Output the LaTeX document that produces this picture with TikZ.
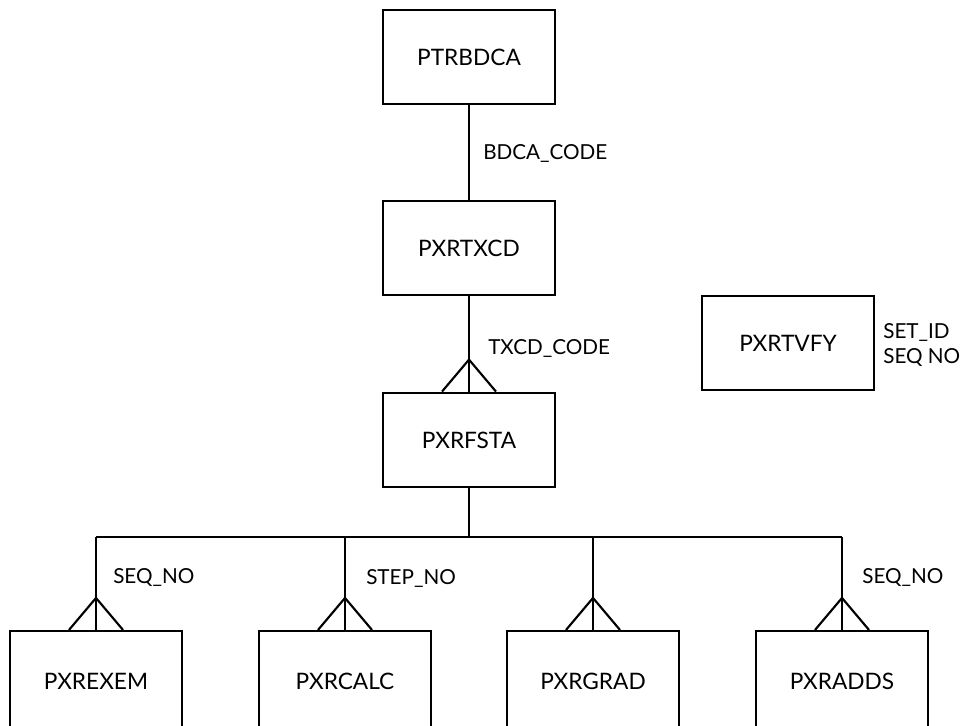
\documentclass[tikz,border=0pt]{standalone}
\usepackage{fontspec}
\setmainfont{Lato}
\usetikzlibrary{calc}
\begin{document}
\begin{tikzpicture}[x=0.75pt,y=-0.75pt,
  entity/.style={draw,line width=1.6pt,minimum width=129pt,minimum height=71pt,
    inner sep=0pt,font=\fontsize{17}{20}\selectfont},
  detail/.style={entity,minimum height=75pt},
  rel/.style={line width=1.6pt},
  lbl/.style={anchor=west,inner sep=0pt,font=\fontsize{15.5}{18.5}\selectfont},
  every node/.append style={text=black}]
\useasboundingbox (0,0) rectangle (967,725);
\clip (0,0) rectangle (967,725);

% entities
\node[entity] (bdca) at (469,57)  {PTRBDCA};
\node[entity] (txcd) at (469,248) {PXRTXCD};
\node[entity] (fsta) at (469,440) {PXRFSTA};
\node[entity] (tvfy) at (788,343) {PXRTVFY};
\node[detail] (exem) at (96,681)  {PXREXEM};
\node[detail] (calc) at (345,681) {PXRCALC};
\node[detail] (grad) at (593,681) {PXRGRAD};
\node[detail] (adds) at (842,681) {PXRADDS};

% one-to-one
\draw[rel] (bdca.south) -- (txcd.north);
\node[lbl] (lbdca) at (483,153) {BDCA\_CODE};

% one-to-many with crow's foot
\draw[rel] (txcd.south) -- (fsta.north);
\draw[rel] ($(fsta.north)+(-27,0)$) -- ($(fsta.north)+(0,-32)$) -- ($(fsta.north)+(27,0)$);
\node[lbl] (ltxcd) at (488,348) {TXCD\_CODE};

% bus to the detail tables
\coordinate (bus) at (469,537);
\draw[rel] (fsta.south) -- (bus);
\draw[rel] (exem.north |- bus) -- (adds.north |- bus);
\foreach \n in {exem,calc,grad,adds}{
  \draw[rel] (\n.north |- bus) -- (\n.north);
  \draw[rel] ($(\n.north)+(-27,0)$) -- ($(\n.north)+(0,-32)$) -- ($(\n.north)+(27,0)$);
}
\node[lbl] (lexem) at (113,578) {SEQ\_NO};
\node[lbl] (lcalc) at (366,578) {STEP\_NO};
\node[lbl] (ladds) at (862,578) {SEQ\_NO};

% key of the standalone table
\node[lbl,align=left] (ltvfy) at (883,345) {SET\_ID\\SEQ NO};
\end{tikzpicture}
\end{document}
